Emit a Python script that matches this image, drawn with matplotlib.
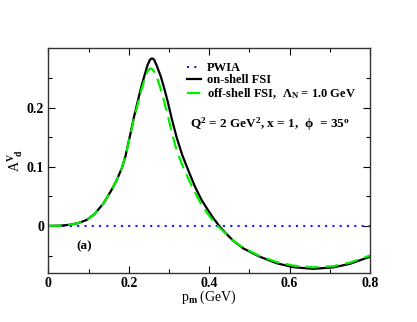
import matplotlib
matplotlib.use("Agg")
import matplotlib.pyplot as plt

plt.rcParams['font.family'] = ['Liberation Serif', 'DejaVu Serif']
plt.rcParams['font.weight'] = 'bold'
plt.rcParams['mathtext.fontset'] = 'custom'
plt.rcParams['mathtext.rm'] = 'Liberation Serif:bold'
plt.rcParams['mathtext.it'] = 'Liberation Serif:bold'
plt.rcParams['mathtext.bf'] = 'Liberation Serif:bold'

# data
pm_on = [0.0, 0.03, 0.054, 0.075, 0.095, 0.115, 0.137, 0.155, 0.170, 0.183, 0.192, 0.199,
         0.205, 0.212, 0.224, 0.232, 0.240, 0.247, 0.253, 0.258, 0.263, 0.270, 0.280, 0.290,
         0.297, 0.307, 0.319, 0.333, 0.348, 0.365, 0.381, 0.395, 0.410, 0.425, 0.44, 0.46,
         0.485, 0.526, 0.568, 0.609, 0.659, 0.709, 0.75, 0.8]
A_on = [0.0, 0.0005, 0.002, 0.005, 0.010, 0.020, 0.038, 0.058, 0.077, 0.098, 0.118, 0.140,
        0.158, 0.181, 0.215, 0.237, 0.256, 0.272, 0.281, 0.283, 0.281, 0.270, 0.252, 0.228,
        0.210, 0.181, 0.150, 0.120, 0.094, 0.066, 0.044, 0.029, 0.0135, 0.0, -0.0115, -0.025,
        -0.038, -0.052, -0.063, -0.0697, -0.0725, -0.070, -0.064, -0.052]
pm_off = [0.0, 0.03, 0.054, 0.075, 0.095, 0.115, 0.137, 0.155, 0.170, 0.183, 0.192, 0.199,
          0.205, 0.212, 0.224, 0.232, 0.240, 0.247, 0.253, 0.258, 0.265, 0.272, 0.280, 0.290,
          0.297, 0.307, 0.319, 0.333, 0.348, 0.365, 0.381, 0.395, 0.410, 0.421, 0.44, 0.46,
          0.485, 0.526, 0.568, 0.609, 0.659, 0.709, 0.75, 0.8]
A_off = [0.0, 0.0005, 0.002, 0.005, 0.010, 0.020, 0.038, 0.058, 0.077, 0.098, 0.118, 0.139,
         0.156, 0.178, 0.210, 0.231, 0.249, 0.261, 0.266, 0.265, 0.259, 0.247, 0.230, 0.205,
         0.187, 0.158, 0.128, 0.103, 0.080, 0.056, 0.036, 0.022, 0.0085, 0.0, -0.012, -0.025,
         -0.037, -0.051, -0.061, -0.067, -0.070, -0.068, -0.062, -0.050]
pm_pwia = [0.0, 0.8]
A_pwia = [0.0, 0.0]

fig = plt.figure(figsize=(4.17, 3.22), dpi=100)
ax = fig.add_axes([48.3/417, 1 - 273.3/322, (370 - 48.3)/417, (273.3 - 48.3)/322])

ax.plot(pm_pwia, A_pwia, color='#1a1aff', linestyle=(0, (1, 2.5)), lw=1.5, label='PWIA')
ax.plot(pm_on, A_on, color='black', lw=1.6, label='on-shell FSI')
ax.plot(pm_off, A_off, color='#00ee00', lw=1.6, linestyle=(0, (6, 3)),
        label=r'off-shell FSI,  $\Lambda_\mathrm{N}$ = 1.0 GeV')

ax.set_xlim(0, 0.8)
ax.set_ylim(-0.08, 0.3)
ax.set_xticks([0, 0.2, 0.4, 0.6, 0.8])
ax.set_xticklabels(['0', '0.2', '0.4', '0.6', '0.8'])
ax.set_xticks([0.1, 0.3, 0.5, 0.7], minor=True)
ax.set_yticks([0, 0.1, 0.2])
ax.set_yticklabels(['0', '0.1', '0.2'])
ax.set_yticks([-0.05, 0.05, 0.15, 0.25], minor=True)
ax.tick_params(which='both', direction='in', top=True, right=True, labelsize=10, pad=3)
ax.tick_params(which='major', length=5, width=0.8)
ax.tick_params(which='minor', length=3, width=0.8)
for s in ax.spines.values():
    s.set_linewidth(1.0)
    s.set_color('#333333')

ax.set_xlabel(r'p$_\mathrm{m}$ (GeV)', fontsize=10, labelpad=-1)
ax.set_ylabel(r'A$^\mathrm{V}_{\ \ \mathrm{d}}$', fontsize=10, labelpad=1)

leg = ax.legend(loc='upper left', bbox_to_anchor=(0.415, 0.96), frameon=False, fontsize=9,
                handlelength=1.1, handletextpad=0.5, labelspacing=0.0, borderaxespad=0)

ax.text(0.69, 0.664, r'Q$^2$ = 2 GeV$^2$, x = 1,  $\phi$  = 35$^\mathrm{o}$',
        transform=ax.transAxes, fontsize=9.5, ha='center', va='center')
ax.text(0.07, -0.034, '(a)', fontsize=9.5, ha='left', va='center')

fig.savefig('out.png', dpi=100)
